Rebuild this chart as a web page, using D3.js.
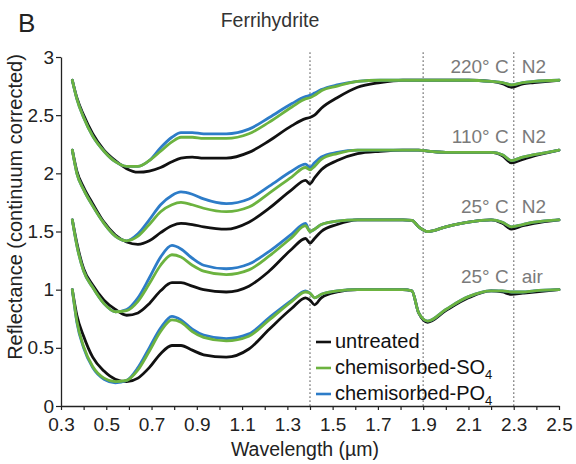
<!DOCTYPE html>
<html>
<head>
<meta charset="utf-8">
<script src="https://cdn.jsdelivr.net/npm/d3@7"></script>
<style>
  html, body { margin: 0; padding: 0; background: #fff; }
  svg { display: block; font-family: "Liberation Sans", Arial, sans-serif; }
</style>
</head>
<body>
<svg id="chart" width="576" height="464"></svg>
<script>
// Wavelength grid (µm) shared by all spectra
const wavelengths = [0.35, 0.37, 0.40, 0.44, 0.49, 0.54, 0.59, 0.64, 0.69, 0.74,
  0.79, 0.83, 0.88, 0.93, 1.03, 1.13, 1.22, 1.32, 1.38, 1.40,
  1.42, 1.45, 1.52, 1.61, 1.71, 1.81, 1.85, 1.88, 1.92, 2.00,
  2.10, 2.20, 2.25, 2.29, 2.34, 2.39, 2.50];

// Treatment conditions, bottom to top, and their vertical stacking offsets
const conditionTemps = ["25° C", "25° C", "110° C", "220° C"];
const conditionAtmos = ["air", "N2", "N2", "N2"];
const offsets = [0, 0.6, 1.2, 1.8];

// Continuum-corrected reflectance, 25 °C in air
const airUntreated = [1.0, 0.78, 0.60, 0.42, 0.30, 0.23, 0.21, 0.24, 0.33, 0.45,
  0.52, 0.52, 0.48, 0.44, 0.42, 0.49, 0.66, 0.84, 0.93, 0.91,
  0.87, 0.93, 0.98, 1.0, 1.0, 1.0, 0.99, 0.80, 0.72, 0.82,
  0.93, 0.99, 0.98, 0.96, 0.97, 0.98, 1.0];
const airSO4 = [1.0, 0.73, 0.51, 0.34, 0.24, 0.21, 0.22, 0.31, 0.47, 0.64,
  0.74, 0.72, 0.64, 0.59, 0.56, 0.60, 0.74, 0.90, 0.98, 0.97,
  0.93, 0.96, 0.99, 1.0, 1.0, 1.0, 0.99, 0.80, 0.73, 0.83,
  0.94, 0.99, 0.99, 0.98, 0.98, 0.99, 1.0];
const airPO4 = [1.0, 0.72, 0.50, 0.33, 0.23, 0.20, 0.22, 0.33, 0.50, 0.67,
  0.77, 0.74, 0.66, 0.61, 0.58, 0.62, 0.76, 0.91, 0.99, 0.97,
  0.93, 0.96, 0.99, 1.0, 1.0, 1.0, 0.99, 0.80, 0.73, 0.83,
  0.94, 0.99, 0.99, 0.98, 0.98, 0.99, 1.0];

// 25 °C under N2
const n2Untreated = [1.0, 0.80, 0.58, 0.44, 0.31, 0.23, 0.18, 0.20, 0.28, 0.39,
  0.46, 0.46, 0.43, 0.40, 0.38, 0.43, 0.56, 0.75, 0.84, 0.80,
  0.84, 0.90, 0.96, 1.0, 1.0, 1.0, 0.995, 0.94, 0.90, 0.94,
  0.98, 1.0, 0.97, 0.92, 0.95, 0.97, 1.0];
const n2SO4 = [1.0, 0.78, 0.56, 0.42, 0.28, 0.21, 0.22, 0.30, 0.45, 0.61,
  0.70, 0.68, 0.61, 0.56, 0.53, 0.57, 0.69, 0.85, 0.95, 0.90,
  0.92, 0.96, 0.99, 1.0, 1.0, 1.0, 0.995, 0.94, 0.90, 0.94,
  0.98, 1.0, 0.98, 0.94, 0.96, 0.98, 1.0];
const n2PO4 = [1.0, 0.78, 0.56, 0.42, 0.28, 0.21, 0.23, 0.33, 0.50, 0.68,
  0.78, 0.75, 0.67, 0.61, 0.58, 0.62, 0.73, 0.88, 0.97, 0.90,
  0.92, 0.96, 0.99, 1.0, 1.0, 1.0, 0.995, 0.94, 0.90, 0.94,
  0.98, 1.0, 0.98, 0.94, 0.96, 0.98, 1.0];

// 110 °C under N2
const h110Untreated = [1.0, 0.82, 0.68, 0.54, 0.38, 0.27, 0.21, 0.19, 0.22, 0.29,
  0.35, 0.37, 0.36, 0.34, 0.32, 0.38, 0.50, 0.66, 0.74, 0.71,
  0.76, 0.83, 0.91, 0.97, 0.99, 1.0, 1.0, 1.0, 0.99, 0.98,
  0.98, 0.98, 0.95, 0.89, 0.92, 0.95, 1.0];
const h110SO4 = [1.0, 0.80, 0.66, 0.52, 0.37, 0.26, 0.22, 0.26, 0.36, 0.47,
  0.53, 0.55, 0.53, 0.50, 0.47, 0.51, 0.63, 0.77, 0.85, 0.83,
  0.86, 0.92, 0.97, 1.0, 1.0, 1.0, 1.0, 1.0, 0.99, 0.98,
  0.98, 0.98, 0.96, 0.91, 0.94, 0.96, 1.0];
const h110PO4 = [1.0, 0.80, 0.66, 0.52, 0.37, 0.26, 0.22, 0.28, 0.40, 0.53,
  0.61, 0.64, 0.62, 0.58, 0.54, 0.58, 0.69, 0.82, 0.88, 0.85,
  0.89, 0.94, 0.98, 1.0, 1.0, 1.0, 1.0, 1.0, 0.99, 0.98,
  0.98, 0.98, 0.96, 0.91, 0.94, 0.96, 1.0];

// 220 °C under N2
const h220Untreated = [1.0, 0.85, 0.70, 0.54, 0.40, 0.31, 0.24, 0.21, 0.22, 0.25,
  0.30, 0.33, 0.34, 0.33, 0.33, 0.38, 0.48, 0.61, 0.67, 0.68,
  0.70, 0.76, 0.85, 0.94, 0.98, 1.0, 1.0, 1.0, 1.0, 1.0,
  1.0, 0.99, 0.97, 0.94, 0.97, 0.98, 1.0];
const h220SO4 = [1.0, 0.84, 0.68, 0.52, 0.39, 0.30, 0.26, 0.26, 0.31, 0.39,
  0.47, 0.51, 0.51, 0.50, 0.50, 0.54, 0.64, 0.77, 0.84, 0.85,
  0.87, 0.91, 0.95, 0.99, 1.0, 1.0, 1.0, 1.0, 1.0, 1.0,
  1.0, 0.99, 0.98, 0.96, 0.98, 0.99, 1.0];
const h220PO4 = [1.0, 0.84, 0.68, 0.52, 0.39, 0.30, 0.26, 0.26, 0.31, 0.42,
  0.51, 0.55, 0.55, 0.54, 0.54, 0.58, 0.68, 0.80, 0.86, 0.87,
  0.89, 0.92, 0.96, 0.99, 1.0, 1.0, 1.0, 1.0, 1.0, 1.0,
  1.0, 0.99, 0.98, 0.96, 0.98, 0.99, 1.0];

const untreatedSeries = [airUntreated, n2Untreated, h110Untreated, h220Untreated];
const so4Series = [airSO4, n2SO4, h110SO4, h220SO4];
const po4Series = [airPO4, n2PO4, h110PO4, h220PO4];

// Treatments in drawing order (last one on top)
const treatments = ["untreated", "chemisorbed-PO4", "chemisorbed-SO4"];
const treatmentColors = { "untreated": "#111111", "chemisorbed-SO4": "#6cb33f", "chemisorbed-PO4": "#2d7cc8" };
const treatmentData = { "untreated": untreatedSeries, "chemisorbed-SO4": so4Series, "chemisorbed-PO4": po4Series };

// Legend entries (top to bottom): label, subscript
const legendLabels = ["untreated", "chemisorbed-SO", "chemisorbed-PO"];
const legendSubs = ["", "4", "4"];
const legendKeys = ["untreated", "chemisorbed-SO4", "chemisorbed-PO4"];

// Axis ticks
const xTicks = [0.3, 0.5, 0.7, 0.9, 1.1, 1.3, 1.5, 1.7, 1.9, 2.1, 2.3, 2.5];
const xTickLabels = ["0.3", "0.5", "0.7", "0.9", "1.1", "1.3", "1.5", "1.7", "1.9", "2.1", "2.3", "2.5"];
const xMinorTicks = [0.4, 0.6, 0.8, 1.0, 1.2, 1.4, 1.6, 1.8, 2.0, 2.2, 2.4];
const yTicks = [0, 0.5, 1, 1.5, 2, 2.5, 3];
const yTickLabels = ["0", "0.5", "1", "1.5", "2", "2.5", "3"];

// Absorption features marked by dotted guides (µm)
const featureLines = [1.4, 1.9, 2.3];

const svg = d3.select("#chart");
const x = d3.scaleLinear().domain([0.3, 2.5]).range([61, 559]);
const y = d3.scaleLinear().domain([0, 3]).range([406, 57]);

// Dotted guide lines
svg.append("g").selectAll("line").data(featureLines).join("line")
  .attr("x1", d => x(d)).attr("x2", d => x(d))
  .attr("y1", y(3.04)).attr("y2", y(0))
  .attr("stroke", "#8a8a8a").attr("stroke-width", 1.4)
  .attr("stroke-dasharray", "1.6,2.4");

// Spectra
const line = d3.line()
  .x(d => x(d[0]))
  .y(d => y(d[1]))
  .curve(d3.curveMonotoneX);

const curves = svg.append("g").attr("fill", "none").attr("stroke-linejoin", "round").attr("stroke-linecap", "round");
treatments.forEach(t => {
  treatmentData[t].forEach((vals, gi) => {
    const pts = wavelengths.map((w, i) => [w, vals[i] + offsets[gi]]);
    curves.append("path")
      .attr("d", line(pts))
      .attr("stroke", treatmentColors[t])
      .attr("stroke-width", 2.8);
  });
});

// Axes
const tickFont = 19;
svg.append("g").attr("transform", `translate(0,${y(0)})`)
  .call(d3.axisBottom(x).tickValues(xTicks).tickFormat((d, i) => xTickLabels[i]).tickSize(4).tickSizeOuter(0).tickPadding(8));
svg.append("g").attr("transform", `translate(0,${y(0)})`)
  .call(d3.axisBottom(x).tickValues(xMinorTicks).tickFormat("").tickSize(4).tickSizeOuter(0))
  .select(".domain").remove();
const yAxis = svg.append("g").attr("transform", `translate(${x(0.3)},0)`)
  .call(d3.axisLeft(y).tickValues(yTicks).tickFormat((d, i) => yTickLabels[i]).tickSize(5).tickSizeOuter(0).tickPadding(2));

svg.selectAll(".domain").attr("stroke", "#222").attr("stroke-width", 1.3);
svg.selectAll(".tick line").attr("stroke", "#222").attr("stroke-width", 1.2);
svg.selectAll(".tick text").attr("font-size", tickFont).attr("fill", "#222")
  .attr("font-family", "Liberation Sans, Arial, sans-serif");
yAxis.selectAll(".tick text").attr("dy", "0.32em");

// Axis titles
svg.append("text")
  .attr("x", 305).attr("y", 456)
  .attr("text-anchor", "middle").attr("font-size", 19.5).attr("fill", "#222")
  .text("Wavelength (µm)");
svg.append("text")
  .attr("transform", "translate(22,207) rotate(-90)")
  .attr("text-anchor", "middle").attr("font-size", 20).attr("fill", "#222")
  .text("Reflectance (continuum corrected)");

// Panel letter and title
svg.append("text").attr("x", 18).attr("y", 32).attr("font-size", 26).attr("fill", "#222").text("B");
svg.append("text").attr("x", 270).attr("y", 27).attr("text-anchor", "middle")
  .attr("font-size", 19.5).attr("fill", "#333").text("Ferrihydrite");

// Condition labels at the right end of each spectrum group
const labelX = x(2.3);
offsets.forEach((off, gi) => {
  const ly = y(off + 1.0) - 7;
  svg.append("text").attr("x", labelX - 5).attr("y", ly).attr("text-anchor", "end")
    .attr("font-size", 19).attr("fill", "#7a7a7a").text(conditionTemps[gi]);
  svg.append("text").attr("x", labelX + 8).attr("y", ly)
    .attr("font-size", 19).attr("fill", "#7a7a7a").text(conditionAtmos[gi]);
});

// Legend
const legend = svg.append("g");
legendLabels.forEach((lab, i) => {
  const by = 348 + i * 26;
  legend.append("line")
    .attr("x1", 316).attr("x2", 331)
    .attr("y1", by - 6).attr("y2", by - 6)
    .attr("stroke", treatmentColors[legendKeys[i]]).attr("stroke-width", 2.6);
  const tx = legend.append("text").attr("x", 335).attr("y", by)
    .attr("font-size", 20).attr("fill", "#111");
  tx.append("tspan").text(lab);
  if (legendSubs[i]) {
    tx.append("tspan").attr("font-size", 13).attr("dy", 5).text(legendSubs[i]);
  }
});
</script>
</body>
</html>
